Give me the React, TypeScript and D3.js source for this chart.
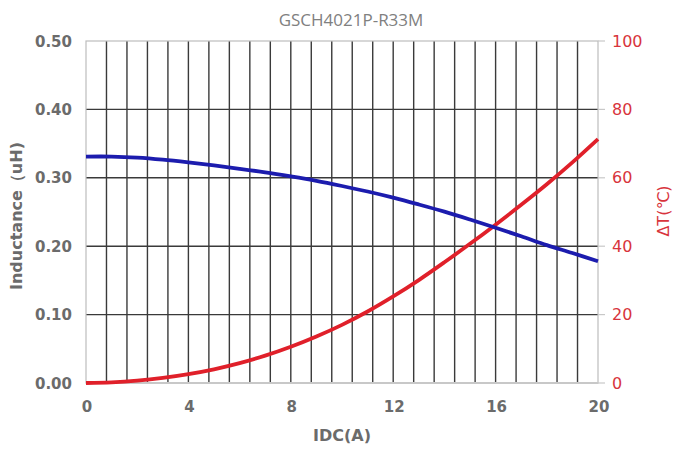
import React, { useRef, useEffect } from 'react';
import * as d3 from 'd3';

// IDC (A) sample points
const currents = [0, 1, 2, 3, 4, 5, 6, 7, 8, 9, 10, 11, 12, 13, 14, 15, 16, 17, 18, 19, 20];
// inductance (uH)
const inductance = [0.331, 0.331, 0.3295, 0.3265, 0.3225, 0.318, 0.3132, 0.308, 0.302, 0.2955, 0.288, 0.28, 0.271, 0.261, 0.2505, 0.239, 0.227, 0.2145, 0.2015, 0.19, 0.178];
// temperature rise (C)
const tempRise = [0, 0.2, 0.7, 1.5, 2.6, 4.0, 5.8, 8.0, 10.6, 13.6, 17.0, 20.9, 25.3, 30.1, 35.3, 40.7, 46.3, 52.1, 58.1, 64.5, 71.3];

const xTicks = [0, 4, 8, 12, 16, 20];
const leftTicks = [0, 0.1, 0.2, 0.3, 0.4, 0.5];
const rightTicks = [0, 20, 40, 60, 80, 100];
const gridStep = 0.8; // vertical grid every 0.8 A

const W = 675, H = 451;
const margin = { top: 41, right: 77, bottom: 68, left: 86 };
const labelFont = '"DejaVu Sans", Verdana, sans-serif';

export default function App() {
  const ref = useRef<SVGSVGElement>(null);

  useEffect(() => {
    if (!ref.current) return;
    const svg = d3.select(ref.current);
    svg.selectAll('*').remove();

    const x = d3.scaleLinear().domain([0, 20]).range([margin.left, W - margin.right]);
    const yL = d3.scaleLinear().domain([0, 0.5]).range([H - margin.bottom, margin.top]);
    const yR = d3.scaleLinear().domain([0, 100]).range([H - margin.bottom, margin.top]);

    svg.append('rect').attr('width', W).attr('height', H).attr('fill', '#fff');

    // vertical grid
    const vgrid = d3.range(1, Math.round(20 / gridStep)).map(i => i * gridStep);
    svg.append('g')
      .selectAll('line')
      .data(vgrid)
      .join('line')
      .attr('x1', d => x(d)).attr('x2', d => x(d))
      .attr('y1', yL(0.5)).attr('y2', yL(0))
      .attr('stroke', '#3a3a3a').attr('stroke-width', 1.4);

    // horizontal grid
    svg.append('g')
      .selectAll('line')
      .data(leftTicks.filter(t => t > 0 && t < 0.5))
      .join('line')
      .attr('x1', x(0)).attr('x2', x(20))
      .attr('y1', d => yL(d)).attr('y2', d => yL(d))
      .attr('stroke', '#3a3a3a').attr('stroke-width', 1.4);

    // frame
    svg.append('rect')
      .attr('x', x(0)).attr('y', yL(0.5))
      .attr('width', x(20) - x(0)).attr('height', yL(0) - yL(0.5))
      .attr('fill', 'none').attr('stroke', '#bdbdbd').attr('stroke-width', 1.2);
    svg.append('line')
      .attr('x1', x(0)).attr('x2', x(20)).attr('y1', yL(0)).attr('y2', yL(0))
      .attr('stroke', '#c8c8c8').attr('stroke-width', 2);

    // right-side outward ticks
    svg.append('g')
      .selectAll('line')
      .data(rightTicks)
      .join('line')
      .attr('x1', x(20)).attr('x2', x(20) + 7)
      .attr('y1', d => yR(d)).attr('y2', d => yR(d))
      .attr('stroke', '#c8c8c8').attr('stroke-width', 1.2);

    // left tick labels
    svg.append('g')
      .selectAll('text')
      .data(leftTicks)
      .join('text')
      .attr('x', 72).attr('y', d => yL(d) + 5.5)
      .attr('text-anchor', 'end')
      .style('font', `bold 15px ${labelFont}`)
      .attr('fill', '#6b6b6b')
      .text(d => d.toFixed(2));

    // right tick labels
    svg.append('g')
      .selectAll('text')
      .data(rightTicks)
      .join('text')
      .attr('x', 612).attr('y', d => yR(d) + 5.5)
      .style('font', `16px ${labelFont}`)
      .attr('fill', '#d8343c')
      .text(d => d);

    // bottom tick labels
    svg.append('g')
      .selectAll('text')
      .data(xTicks)
      .join('text')
      .attr('x', d => x(d) + 1).attr('y', 412)
      .attr('text-anchor', 'middle')
      .style('font', `bold 15px ${labelFont}`)
      .attr('fill', '#6b6b6b')
      .text(d => d);

    // axis titles
    svg.append('text')
      .attr('x', 342).attr('y', 441)
      .attr('text-anchor', 'middle')
      .style('font', `bold 16px ${labelFont}`)
      .attr('fill', '#6b6b6b')
      .text('IDC(A)');

    svg.append('text')
      .attr('transform', 'translate(22,216) rotate(-90)')
      .attr('text-anchor', 'middle')
      .style('font', `bold 16px ${labelFont}`)
      .attr('fill', '#6b6b6b')
      .text('Inductance（uH)');

    svg.append('text')
      .attr('transform', 'translate(669,211) rotate(-90)')
      .attr('text-anchor', 'middle')
      .style('font', `16px ${labelFont}`)
      .attr('fill', '#d8343c')
      .text('ΔT(℃)');

    svg.append('text')
      .attr('x', 351).attr('y', 26)
      .attr('text-anchor', 'middle')
      .style('font', '17px "Open Sans", "DejaVu Sans", sans-serif')
      .attr('fill', '#808080')
      .text('GSCH4021P-R33M');

    // curves
    const lineL = d3.line<number>()
      .x((_, i) => x(currents[i]))
      .y(d => yL(d))
      .curve(d3.curveCatmullRom);
    const lineR = d3.line<number>()
      .x((_, i) => x(currents[i]))
      .y(d => yR(d))
      .curve(d3.curveCatmullRom);

    svg.append('path')
      .datum(tempRise)
      .attr('d', lineR)
      .attr('fill', 'none')
      .attr('stroke', '#e0202a')
      .attr('stroke-width', 3.8);

    svg.append('path')
      .datum(inductance)
      .attr('d', lineL)
      .attr('fill', 'none')
      .attr('stroke', '#1c1cae')
      .attr('stroke-width', 3.8);
  }, []);

  return (
    <svg ref={ref} width={W} height={H}
      style={{ position: 'absolute', left: 0, top: 0, display: 'block' }} />
  );
}
